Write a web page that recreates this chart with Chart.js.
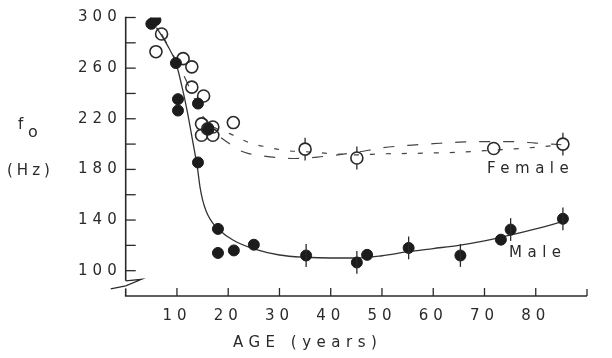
<!DOCTYPE html>
<html>
<head>
<meta charset="utf-8">
<script src="https://cdn.jsdelivr.net/npm/chart.js@4.4.1/dist/chart.umd.min.js"></script>
<style>
  html, body { margin: 0; padding: 0; background: #fff; }
  #wrap { position: relative; width: 612px; height: 358px; }
</style>
</head>
<body>
<div id="wrap"><canvas id="f0Chart"></canvas></div>
<script>
// Male speakers (filled circles): age (years), f0 (Hz), error bar half length (Hz, 0 = none)
const maleAge = [5.0, 5.8, 9.8, 10.2, 10.2, 14.1, 14.1, 16.1, 18.0, 18.0, 21.1, 25.0, 35.2, 45.1, 47.1, 55.2, 65.3, 73.2, 75.1, 85.3];
const maleF0  = [295, 298, 264, 235.5, 226.5, 232, 185.5, 212, 133, 114, 116, 120.5, 112, 106.5, 112.5, 118, 112, 124.5, 132.5, 141];
const maleErr = [0, 0, 0, 0, 0, 0, 0, 0, 0, 0, 0, 0, 9, 9, 0, 9, 9, 0, 9, 9];

// Female speakers (open circles)
const femaleAge = [5.9, 7.0, 11.2, 12.9, 12.9, 15.2, 14.8, 14.8, 16.0, 17.0, 17.0, 21.0, 35.0, 45.1, 71.8, 85.3];
const femaleF0  = [273, 287, 267.5, 261, 245, 238, 216, 207, 212, 213.5, 207, 217, 196, 189, 196.5, 200];
const femaleErr = [0, 0, 0, 0, 0, 0, 0, 0, 0, 0, 0, 0, 9, 9, 0, 9];

// fitted curves
const maleFitAge = [6, 8, 9.8, 11, 12, 13, 14, 14.5, 15, 15.7, 16.5, 17.3, 18, 21, 25, 30, 35, 40, 45, 50, 55, 60, 65, 70, 75, 80, 85];
const maleFitF0  = [292, 279, 264, 245, 226, 204, 181, 166, 156, 147, 140.5, 136, 133, 124, 117.2, 112.4, 110.6, 110, 110, 111.8, 115, 117.5, 120, 123.5, 128, 133, 138.5];

const femaleDashAge = [7, 9.3, 11.6, 13.5, 15.5, 17.8, 20, 22, 24, 26.2, 30, 33, 38, 45, 50, 55, 60, 65, 70, 75, 80, 85];
const femaleDashF0  = [287, 270, 252, 235, 221, 208, 201, 195.5, 192.5, 191, 189.2, 188.6, 190, 193.5, 197, 199, 200.3, 201.5, 202, 202, 200.8, 199.5];

const femaleDotAge = [15, 17, 20.7, 24.3, 27.5, 31.4, 35, 40, 45, 50, 55, 60, 65, 70, 75, 80, 85];
const femaleDotF0  = [222, 214, 207.5, 200.8, 197.7, 194.8, 194, 192.5, 191.5, 192.3, 192.6, 193, 193.6, 194.8, 196, 197.5, 199.5];

// axis ticks
const xTicks = [10, 20, 30, 40, 50, 60, 70, 80];
const yLabels = [100, 140, 180, 220, 260, 300];
const yMinor = [120, 160, 200, 240, 280];

const INK = '#2a2a2a';
const FONT = 'DejaVu Sans';

function pts(xs, ys) {
    return xs.map((x, i) => ({ x: x, y: ys[i] }));
}

function segment(ctx, x1, y1, x2, y2, width) {
    ctx.lineWidth = width;
    ctx.beginPath();
    ctx.moveTo(x1, y1);
    ctx.lineTo(x2, y2);
    ctx.stroke();
}

const paperAxes = {
    id: 'paperAxes',
    beforeDraw(chart) {
        chart.ctx.letterSpacing = '5px';
    },
    afterDatasetsDraw(chart) {
        const ctx = chart.ctx;
        const xs = chart.scales.x, ys = chart.scales.y;
        const area = chart.chartArea;
        const ax = area.left, ay = area.bottom;

        ctx.save();
        ctx.setLineDash([]);
        ctx.strokeStyle = INK;

        // error bars (open circles keep their inside clear)
        const sets = [
            { age: maleAge, f: maleF0, err: maleErr, gap: 0 },
            { age: femaleAge, f: femaleF0, err: femaleErr, gap: 6 }
        ];
        sets.forEach(s => {
            s.age.forEach((a, i) => {
                if (!s.err[i]) return;
                const px = xs.getPixelForValue(a);
                const c = ys.getPixelForValue(s.f[i]);
                segment(ctx, px, ys.getPixelForValue(s.f[i] + s.err[i]), px, c - s.gap, 1.3);
                segment(ctx, px, c + s.gap, px, ys.getPixelForValue(s.f[i] - s.err[i]), 1.3);
            });
        });

        // y axis, broken near the bottom
        const breakTop = ys.getPixelForValue(92);
        const breakBot = ys.getPixelForValue(86);
        segment(ctx, ax, ys.getPixelForValue(300) - 0.7, ax, breakTop, 1.6);
        segment(ctx, ax, breakBot, ax, ay, 1.6);
        ctx.lineWidth = 1.2;
        ctx.beginPath();
        ctx.moveTo(ax, breakTop);
        ctx.lineTo(ax + 16, breakTop - 1.5);
        ctx.lineTo(ax, breakTop + 5);
        ctx.lineTo(ax - 15, breakBot + 0.5);
        ctx.stroke();

        // y tick marks, pointing inward
        yLabels.concat(yMinor).forEach(v => {
            const py = ys.getPixelForValue(v);
            segment(ctx, ax, py, ax + 10, py, 1.3);
        });

        // x axis and its tick marks
        segment(ctx, ax - 0.8, ay, area.right, ay, 1.6);
        xTicks.forEach(v => {
            const px = xs.getPixelForValue(v);
            segment(ctx, px, ay, px, ay - 8, 1.3);
        });
        segment(ctx, area.right, ay, area.right, ay - 7, 1.3);
        ctx.restore();
    },
    afterDraw(chart) {
        const ctx = chart.ctx;
        ctx.save();
        ctx.fillStyle = INK;
        ctx.textAlign = 'left';
        ctx.textBaseline = 'alphabetic';
        ctx.font = '15px "' + FONT + '"';
        ctx.letterSpacing = '0px';
        ctx.fillText('f', 18, 129);
        ctx.font = '16px "' + FONT + '"';
        ctx.fillText('o', 28, 137);
        ctx.font = '15px "' + FONT + '"';
        ctx.letterSpacing = '4px';
        ctx.fillText('(Hz)', 7, 175);
        ctx.letterSpacing = '5.5px';
        ctx.fillText('AGE (years)', 233, 347);
        ctx.fillText('Female', 487, 173);
        ctx.fillText('Male', 509, 257);
        ctx.restore();
    }
};

new Chart(document.getElementById('f0Chart'), {
    type: 'scatter',
    data: {
        datasets: [
            {
                label: 'Male',
                data: pts(maleAge, maleF0),
                pointRadius: 5.5,
                pointBackgroundColor: '#1c1c1c',
                pointBorderColor: '#1c1c1c',
                pointBorderWidth: 1,
                order: 0
            },
            {
                label: 'Female',
                data: pts(femaleAge, femaleF0),
                pointRadius: 6,
                pointBackgroundColor: 'rgba(0,0,0,0)',
                pointBorderColor: INK,
                pointBorderWidth: 1.6,
                order: 1
            },
            {
                label: 'Male fit',
                data: pts(maleFitAge, maleFitF0),
                showLine: true,
                pointRadius: 0,
                borderColor: '#333',
                borderWidth: 1.3,
                cubicInterpolationMode: 'monotone',
                order: 2
            },
            {
                label: 'Female fit (dashed)',
                data: pts(femaleDashAge, femaleDashF0),
                showLine: true,
                pointRadius: 0,
                borderColor: '#444',
                borderWidth: 1.2,
                borderDash: [11, 13],
                cubicInterpolationMode: 'monotone',
                order: 3
            },
            {
                label: 'Female fit (dotted)',
                data: pts(femaleDotAge, femaleDotF0),
                showLine: true,
                pointRadius: 0,
                borderColor: '#444',
                borderWidth: 1.2,
                borderDash: [5, 11],
                cubicInterpolationMode: 'monotone',
                order: 4
            }
        ]
    },
    options: {
        responsive: true,
        maintainAspectRatio: false,
        animation: false,
        layout: { padding: { top: 17.5, right: 25, left: 0, bottom: 0 } },
        plugins: {
            legend: { display: false },
            tooltip: { enabled: false }
        },
        scales: {
            x: {
                type: 'linear',
                min: 0,
                max: 90,
                grid: { display: false, drawTicks: false },
                border: { display: false },
                afterBuildTicks: s => { s.ticks = xTicks.map(v => ({ value: v })); },
                afterFit: s => { s.height = 62; },
                ticks: {
                    color: INK,
                    font: { family: FONT, size: 15 },
                    padding: 11,
                    maxRotation: 0,
                    autoSkip: false
                }
            },
            y: {
                type: 'linear',
                min: 80,
                max: 300,
                grid: { display: false, drawTicks: false },
                border: { display: false },
                afterBuildTicks: s => { s.ticks = yLabels.map(v => ({ value: v })); },
                afterFit: s => { s.width = 125.7; },
                ticks: {
                    color: INK,
                    font: { family: FONT, size: 15 },
                    padding: 4,
                    autoSkip: false
                }
            }
        }
    },
    plugins: [paperAxes]
});
</script>
</body>
</html>
